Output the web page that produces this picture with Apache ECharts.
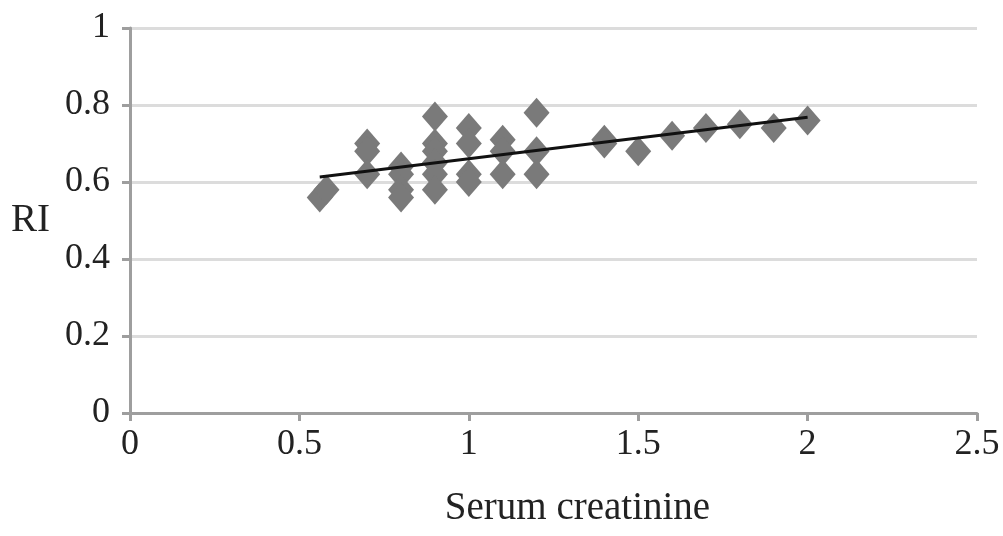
<!DOCTYPE html>
<html>
<head>
<meta charset="utf-8">
<script src="https://cdn.jsdelivr.net/npm/echarts@6/dist/echarts.min.js"></script>
<style>
html,body{margin:0;padding:0;background:#fff}
#main{width:1003px;height:536px}
</style>
</head>
<body>
<div id="main"></div>
<script>
// serum creatinine vs RI
var creat = [0.56, 0.58, 0.7, 0.7, 0.7, 0.8, 0.8, 0.8, 0.8, 0.9, 0.9, 0.9, 0.9, 0.9, 0.9,
  1.0, 1.0, 1.0, 1.0, 1.1, 1.1, 1.1, 1.2, 1.2, 1.2, 1.4, 1.4, 1.5, 1.6, 1.7, 1.8, 1.9, 2.0]
var ri = [0.56, 0.58, 0.70, 0.68, 0.62, 0.64, 0.62, 0.58, 0.56, 0.77, 0.70, 0.68, 0.65, 0.62, 0.58,
  0.74, 0.70, 0.62, 0.60, 0.71, 0.68, 0.62, 0.78, 0.68, 0.62, 0.71, 0.70, 0.68, 0.72, 0.74, 0.75, 0.74, 0.76]
// linear trend line ends
var trendX = [0.56, 2.0]
var trendY = [0.613, 0.768]

var pts = []
for (var i = 0; i < creat.length; i++) {
  pts.push([creat[i], ri[i]])
}
var trend = []
for (var j = 0; j < trendX.length; j++) {
  trend.push([trendX[j], trendY[j]])
}

var font = 'Liberation Serif'
var chart = echarts.init(document.getElementById('main'))
chart.setOption({
  animation: false,
  grid: { left: 130, right: 26, top: 28, bottom: 123 },
  xAxis: {
    type: 'value', min: 0, max: 2.5, interval: 0.5,
    name: 'Serum creatinine', nameLocation: 'middle', nameGap: 76,
    nameTextStyle: { fontFamily: font, fontSize: 39, color: '#222', padding: [0, 0, 0, 48] },
    axisLine: { lineStyle: { color: '#9e9e9e', width: 3 } },
    axisTick: { show: true, length: 8, lineStyle: { color: '#9e9e9e', width: 3 } },
    axisLabel: { fontFamily: font, fontSize: 36, color: '#222', margin: 14 },
    splitLine: { show: false }
  },
  yAxis: {
    type: 'value', min: 0, max: 1, interval: 0.2,
    name: 'RI', nameLocation: 'middle', nameGap: 80, nameRotate: 0,
    nameTextStyle: { fontFamily: font, fontSize: 39, color: '#222' },
    axisLine: { show: true, lineStyle: { color: '#9e9e9e', width: 3 } },
    axisTick: { show: true, length: 8, lineStyle: { color: '#9e9e9e', width: 3 } },
    axisLabel: { fontFamily: font, fontSize: 36, color: '#222', margin: 20 },
    splitLine: { lineStyle: { color: '#dcdcdc', width: 3 } }
  },
  series: [{
    type: 'scatter',
    data: pts,
    symbol: 'diamond',
    symbolSize: [26, 30],
    itemStyle: { color: '#7a7a7a', opacity: 1 },
    z: 2
  }, {
    type: 'line',
    data: trend,
    symbol: 'none',
    lineStyle: { color: '#111', width: 3 },
    z: 3
  }]
})
</script>
</body>
</html>
